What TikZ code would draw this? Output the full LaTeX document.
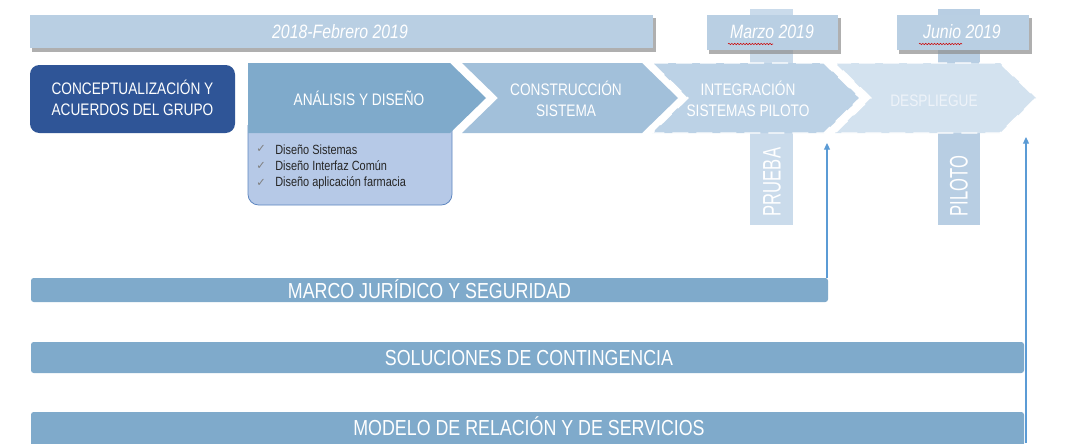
\documentclass[tikz,border=0pt]{standalone}
\usepackage{fontspec}
\setmainfont{Liberation Sans}
\newfontfamily\nf[FakeStretch=0.82]{Liberation Sans}
\newfontfamily\dv{DejaVu Sans}
\usetikzlibrary{arrows.meta,decorations.pathmorphing}
\definecolor{topblue}{HTML}{B9CFE3}
\definecolor{darkblue}{HTML}{2F5597}
\definecolor{chevA}{HTML}{7FAACB}
\definecolor{chevB}{HTML}{A2C0DA}
\definecolor{chevC}{HTML}{BCD2E6}
\definecolor{chevD}{HTML}{D3E2EF}
\definecolor{stripA}{HTML}{CADBEB}
\definecolor{stripB}{HTML}{B8CEE3}
\definecolor{callfill}{HTML}{B6C9E7}
\definecolor{callline}{HTML}{5E86C0}
\definecolor{arrowblue}{HTML}{5B9BD5}
\definecolor{shadowgray}{HTML}{8E8E8E}
\definecolor{faintwhite}{HTML}{EEF3F9}
\definecolor{listtext}{HTML}{262626}
\definecolor{checkgray}{HTML}{7F7F7F}
\tikzset{
  lbl/.style={text=white, font=\nf\fontsize{12.5pt}{15pt}\selectfont, align=center, inner sep=0pt},
  datelbl/.style={text=white, font=\nf\itshape\fontsize{14.5pt}{17pt}\selectfont, inner sep=0pt},
  barlbl/.style={text=white, font=\nf\fontsize{16.3pt}{19pt}\selectfont, inner sep=0pt, anchor=base},
  vlbl/.style={text=white, font=\nf\fontsize{19pt}{22pt}\selectfont, inner sep=0pt, rotate=90},
  listlbl/.style={text=listtext, font=\nf\fontsize{10pt}{12pt}\selectfont, inner sep=0pt, anchor=west},
  checklbl/.style={text=checkgray, font=\dv\fontsize{8.5pt}{9pt}\selectfont, inner sep=0pt},
  shadowbox/.style={fill=shadowgray, opacity=0.7},
  flow/.style={draw=arrowblue, line width=0.8pt, -{Triangle[length=5pt,width=4.5pt]}},
  squig/.style={draw=red!80!black, line width=0.4pt, decorate, decoration={snake, amplitude=0.5pt, segment length=2.2pt}},
  roughedge/.style={draw=white, line width=1pt, dash pattern=on 12pt off 6pt}
}
\begin{document}
\begin{tikzpicture}[x=0.75pt,y=-0.75pt]
\useasboundingbox[fill=white] (0,0) rectangle (1067,443);

% vertical strips behind the milestone boxes
\fill[stripA] (750,9) rectangle (793,225);
\fill[stripB] (938,9) rectangle (980,225);

% top date bars with shadows
\fill[shadowbox] (32,18) rectangle (656,52);
\fill[topblue] (30,15) rectangle (653,48);
\node[datelbl] (t1) at (340,32) {2018-Febrero 2019};

\fill[shadowbox] (709,18) rectangle (841,54);
\fill[topblue] (707,15) rectangle (838,50);
\node[datelbl] (t2) at (772,32) {Marzo 2019};
\draw[squig] (728,44) -- (773,44);

\fill[shadowbox] (899,18) rectangle (1032,54);
\fill[topblue] (897,15) rectangle (1029,50);
\node[datelbl] (t3) at (962,32) {Junio 2019};
\draw[squig] (919,44) -- (962,44);

% conceptualization box
\fill[darkblue, rounded corners=7pt] (30,65) rectangle (235,133);
\node[lbl] (c0) at (132.5,98) {CONCEPTUALIZACIÓN Y\\[1pt]ACUERDOS DEL GRUPO};

% callout below Analisis
\filldraw[fill=callfill, draw=callline, line width=0.6pt]
  (248,125) [rounded corners=8pt] -- (248,205) -- (452,205) -- (452,170) [sharp corners] -- (452,125);

% chevrons
\fill[chevA] (248,63) -- (450,63) -- (486,98) -- (450,133) -- (248,133) -- cycle;
\fill[chevB] (462,63) -- (642,63) -- (678,98) -- (642,133) -- (462,133) -- (498,98) -- cycle;
\filldraw[fill=chevC, roughedge] (652,63) -- (824,63) -- (860,98) -- (824,133) -- (652,133) -- (688,98) -- cycle;
\filldraw[fill=chevD, roughedge] (835,63) -- (1000,63) -- (1036,98) -- (1000,133) -- (835,133) -- (871,98) -- cycle;

\node[lbl, anchor=base] (c1) at (359,105) {ANÁLISIS Y DISEÑO};
\node[lbl] (c2) at (566,99) {CONSTRUCCIÓN\\[1pt]SISTEMA};
\node[lbl] (c3) at (748,99) {INTEGRACIÓN\\[1pt]SISTEMAS PILOTO};
\node[lbl, text=faintwhite, anchor=base] (c4) at (934,106) {DESPLIEGUE};

% checklist
\node[checklbl] (k1) at (261,149) {✓};
\node[checklbl] (k2) at (261,166) {✓};
\node[checklbl] (k3) at (261,183) {✓};
\node[listlbl] (l1) at (275,150) {Diseño Sistemas};
\node[listlbl] (l2) at (275,166) {Diseño Interfaz Común};
\node[listlbl] (l3) at (275,183) {Diseño aplicación farmacia};

% vertical labels
\node[vlbl] (v1) at (772,182) {\scalebox{0.8}[1]{PRUEBA}};
\node[vlbl] (v2) at (959,186) {\scalebox{0.8}[1]{PILOTO}};

% bars
\fill[chevA, rounded corners=2pt] (31,278) rectangle (828,302);
\node[barlbl] (b1) at (429.5,298.5) {MARCO JURÍDICO Y SEGURIDAD};
\fill[chevA, rounded corners=2pt] (31,342) rectangle (1024,373);
\node[barlbl] (b2) at (529,365.5) {SOLUCIONES DE CONTINGENCIA};
\fill[chevA, rounded corners=2pt] (31,412) rectangle (1024,446);
\node[barlbl] (b3) at (529,435.5) {MODELO DE RELACIÓN Y DE SERVICIOS};

% arrows
\coordinate (a1s) at (827,278);
\coordinate (a1e) at (827,143);
\coordinate (a2s) at (1026,443);
\coordinate (a2e) at (1026,137);
\draw[flow] (a1s) -- (a1e);
\draw[flow] (a2s) -- (a2e);
\end{tikzpicture}
\end{document}
